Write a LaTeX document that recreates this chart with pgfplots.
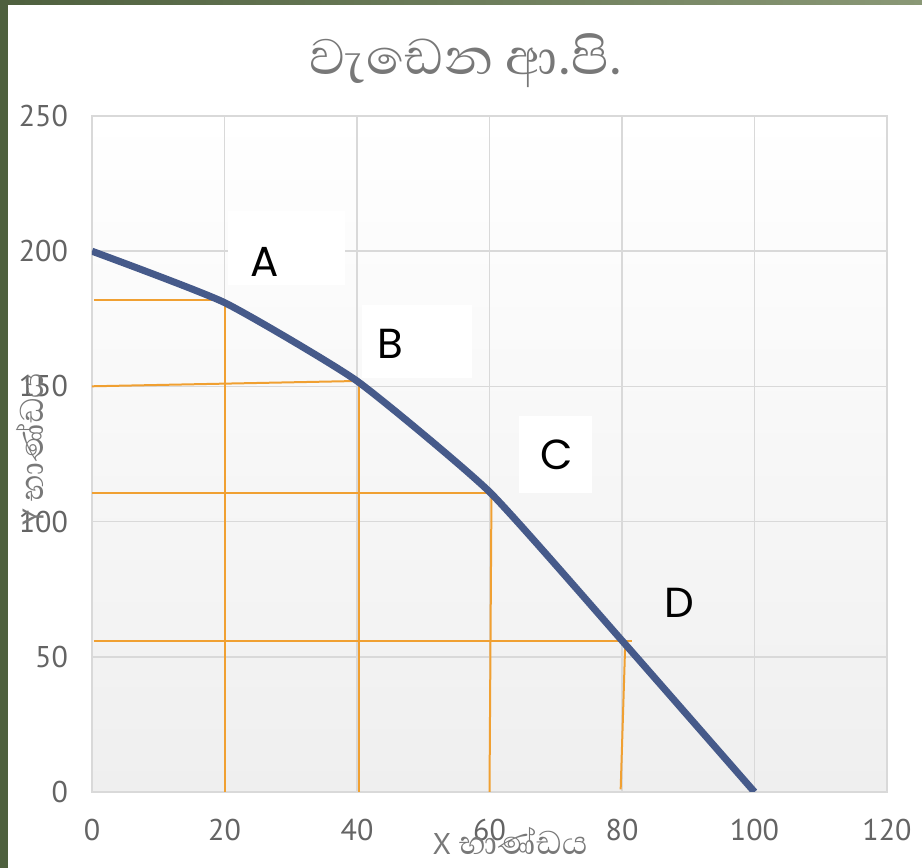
\documentclass[border=0pt]{standalone}
\usepackage{pgfplots}
\pgfplotsset{compat=1.18}
\usepackage{fontspec}
\setmainfont{PT Sans}
\newfontfamily\sinhalafont[Script=Sinhala]{Abhaya Libre}
\newfontfamily\lett{Poppins}
\definecolor{olivedark}{RGB}{78,96,62}
\definecolor{olivelight}{RGB}{138,152,118}
\definecolor{gridc}{RGB}{217,217,217}
\definecolor{tickc}{RGB}{100,100,100}
\definecolor{titlec}{RGB}{120,120,120}
\definecolor{curvec}{RGB}{70,90,138}
\definecolor{orangec}{RGB}{240,160,50}
\definecolor{bgbottom}{RGB}{239,239,239}
\begin{document}
\begin{tikzpicture}[x=1pt,y=1pt]
\useasboundingbox (0,0) rectangle (461,434);
\fill[white] (0,0) rectangle (461,434);
\fill[olivedark] (0,0) rectangle (4,434);
\shade[left color=olivedark, right color=olivelight] (0,431.5) rectangle (461,434);
\begin{axis}[
  at={(46pt,38pt)}, anchor=south west,
  scale only axis, width=397.5pt, height=338pt,
  xmin=0, xmax=120, ymin=0, ymax=250,
  xtick={0,20,...,120}, ytick={0,50,...,250},
  grid=major, major grid style={draw=gridc, line width=0.8pt},
  axis line style={draw=gridc, line width=0.8pt},
  tick style={draw=none},
  axis background/.style={shade, top color=white, bottom color=bgbottom},
  /pgf/number format/assume math mode=true,
  ticklabel style={font=\fontsize{15}{18}\selectfont, text=tickc},
  xticklabel style={yshift=-10pt},
  yticklabel style={xshift=-8.5pt},
  title={වැඩෙන ආ.පි.},
  title style={at={(axis description cs:0.47,1.064)}, anchor=center, font=\sinhalafont\fontsize{32}{38}\selectfont, text=titlec},
  xlabel={{\fontsize{15}{18}\selectfont\rmfamily X} භාණ්ඩය},
  xlabel style={at={(axis description cs:0.526,-0.072)}, anchor=center, font=\sinhalafont\fontsize{21}{24}\selectfont, text=titlec},
  ylabel={{\fontsize{15}{18}\selectfont\rmfamily Y} භාණ්ඩය},
  ylabel style={at={(axis description cs:-0.078,0.507)}, anchor=center, font=\sinhalafont\fontsize{21}{24}\selectfont, text=titlec},
]
% white text boxes
\fill[white] (axis cs:20.6,187.5) rectangle (axis cs:38.2,215);
\fill[white] (axis cs:40.8,153) rectangle (axis cs:57.4,180);
\fill[white] (axis cs:64.5,110.5) rectangle (axis cs:75.5,139);
% orange guide lines
\addplot[orangec, line width=1pt] coordinates {(0.3,182) (20,182)};
\addplot[orangec, line width=1pt] coordinates {(20,182) (20,0)};
\addplot[orangec, line width=1pt] coordinates {(-0.8,150) (40,152)};
\addplot[orangec, line width=1pt] coordinates {(40.3,152) (40.3,0)};
\addplot[orangec, line width=1pt] coordinates {(0,110.6) (60.3,110.6)};
\addplot[orangec, line width=1pt] coordinates {(60.3,110.6) (60,0)};
\addplot[orangec, line width=1pt] coordinates {(0.3,56) (81.5,56)};
\addplot[orangec, line width=1pt] coordinates {(80.5,56) (79.8,1)};
% PPF curve
\addplot[curvec, line width=3.5pt, smooth, tension=0.3] coordinates {(0,200) (20,181) (40,152) (60,111) (80,56) (100,0)};
\node[font=\lett\fontsize{21}{24}\selectfont] at (axis cs:26.1,196) {A};
\node[font=\lett\fontsize{21}{24}\selectfont] at (axis cs:45.1,165.6) {B};
\node[font=\lett\fontsize{21}{24}\selectfont] at (axis cs:70.2,124.6) {C};
\node[font=\lett\fontsize{21}{24}\selectfont] at (axis cs:88.6,69.9) {D};
\end{axis}
\end{tikzpicture}
\end{document}
